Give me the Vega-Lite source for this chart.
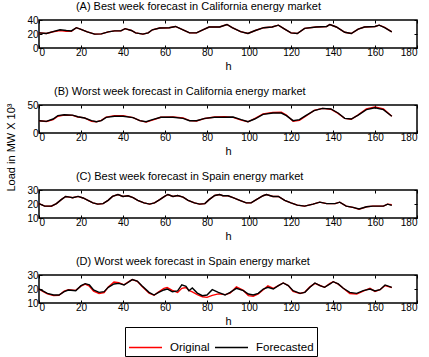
{
  "$schema": "https://vega.github.io/schema/vega-lite/v6.json",
  "padding": {"left": 4, "top": 0, "right": 5, "bottom": 0},
  "background": "white",
  "config": {
    "font": "Liberation Sans",
    "view": {"stroke": "black", "strokeWidth": 1.5},
    "axis": {"domain": false, "grid": false, "tickSize": -3, "tickColor": "black", "tickWidth": 1, "labelFont": "Liberation Sans", "labelFontSize": 10, "labelColor": "black", "labelPadding": 4, "titleFont": "Liberation Sans", "titleFontSize": 11, "titleFontWeight": "normal", "titleColor": "black", "titlePadding": 3},
    "axisX": {"labelPadding": 2},
    "title": {"font": "Liberation Sans", "fontSize": 11, "fontWeight": "normal", "color": "black", "anchor": "start", "dx": 49, "offset": 3},
    "line": {"strokeWidth": 1.4}
  },
  "datasets": {
    "A": [
      {"h":0,"o":21.6,"f":21.6},{"h":3.5,"o":20.7,"f":20.7},{"h":6.7,"o":23.2,"f":23.4},{"h":10,"o":25,"f":26},{"h":13,"o":24,"f":25},{"h":15.4,"o":24,"f":24.4},{"h":17.8,"o":29,"f":29},{"h":20,"o":26.7,"f":26.7},{"h":23,"o":23,"f":23},{"h":26.5,"o":19.8,"f":19.8},{"h":29.7,"o":20.2,"f":20.2},{"h":33,"o":23,"f":23},{"h":36,"o":24.4,"f":24.4},{"h":39,"o":24.4,"f":24.4},{"h":41,"o":27.6,"f":27.6},{"h":44,"o":25,"f":25},{"h":46,"o":21.6,"f":21.6},{"h":49.5,"o":19.8,"f":19.8},{"h":52,"o":21.6,"f":21.6},{"h":54,"o":26,"f":26},{"h":57.5,"o":28.5,"f":28.5},{"h":62,"o":29,"f":29},{"h":65,"o":30.8,"f":30.8},{"h":68.6,"o":26,"f":26},{"h":71.7,"o":21.6,"f":21.6},{"h":75,"o":21.6,"f":21.6},{"h":78,"o":26,"f":26},{"h":81,"o":30,"f":30},{"h":86,"o":30,"f":30},{"h":89.5,"o":33.6,"f":33.6},{"h":92,"o":29,"f":29},{"h":96,"o":23.4,"f":23.4},{"h":99.5,"o":20.7,"f":20.7},{"h":103,"o":25,"f":25},{"h":107,"o":29,"f":29},{"h":111,"o":30,"f":30},{"h":114,"o":32.6,"f":32.6},{"h":117,"o":27,"f":27},{"h":120,"o":21.6,"f":21.6},{"h":123,"o":20.7,"f":20.7},{"h":126.5,"o":28,"f":28},{"h":132,"o":30,"f":30},{"h":137,"o":30.8,"f":30.8},{"h":138.5,"o":33.6,"f":33.6},{"h":141.6,"o":30,"f":30},{"h":145.6,"o":22.5,"f":22.5},{"h":148.7,"o":20.7,"f":20.7},{"h":152,"o":27,"f":27},{"h":155,"o":30,"f":30},{"h":160,"o":30.8,"f":30.8},{"h":162,"o":32.6,"f":32.6},{"h":164.6,"o":29.5,"f":29},{"h":168,"o":23,"f":23}
    ],
    "B": [
      {"h":0,"o":22,"f":22},{"h":3.5,"o":20.5,"f":20.8},{"h":6.7,"o":24,"f":25},{"h":9,"o":30,"f":31},{"h":12,"o":32,"f":32.7},{"h":16,"o":31.5,"f":32},{"h":18.5,"o":28.5,"f":29},{"h":21.7,"o":27,"f":26.8},{"h":25,"o":21,"f":22},{"h":27.3,"o":20,"f":20.2},{"h":29.7,"o":22.5,"f":22},{"h":32,"o":28.5,"f":28},{"h":36,"o":31,"f":29.8},{"h":40,"o":31,"f":29.8},{"h":44.8,"o":27.5,"f":27.4},{"h":48,"o":22,"f":22},{"h":51,"o":19.5,"f":20.2},{"h":54,"o":23,"f":23.8},{"h":58,"o":28,"f":28},{"h":63.8,"o":28.5,"f":28},{"h":68.6,"o":27,"f":26.2},{"h":71.7,"o":22,"f":22},{"h":75,"o":21.5,"f":22},{"h":79,"o":26,"f":26.2},{"h":83.7,"o":28.5,"f":28},{"h":88.5,"o":29,"f":28},{"h":92.4,"o":28,"f":28.6},{"h":96.3,"o":23,"f":23.8},{"h":99.5,"o":20,"f":20.2},{"h":102.7,"o":25.5,"f":25},{"h":106.7,"o":34,"f":33.3},{"h":111.4,"o":36.5,"f":35.7},{"h":115.4,"o":37,"f":35.7},{"h":117.8,"o":32,"f":31},{"h":121,"o":21,"f":22},{"h":124,"o":22.5,"f":23.8},{"h":127,"o":30,"f":31},{"h":131,"o":40.5,"f":40},{"h":135,"o":44,"f":44},{"h":139,"o":42.5,"f":42.9},{"h":142.4,"o":35,"f":35.7},{"h":145.6,"o":26,"f":26.2},{"h":148.7,"o":24.5,"f":25},{"h":152,"o":32.5,"f":32},{"h":155.9,"o":43,"f":41.7},{"h":160,"o":46.5,"f":45},{"h":164,"o":43,"f":41.7},{"h":168,"o":30,"f":29.8}
    ],
    "C": [
      {"h":0,"o":20.3,"f":20.3},{"h":2.7,"o":18.5,"f":18.5},{"h":5.9,"o":18.4,"f":18.5},{"h":8.3,"o":20.3,"f":20.3},{"h":10.6,"o":23.1,"f":23.1},{"h":12.7,"o":25.4,"f":25.4},{"h":14.6,"o":24.9,"f":24.9},{"h":16,"o":24.5,"f":24.5},{"h":18.6,"o":25.4,"f":25.4},{"h":21,"o":24.3,"f":24.3},{"h":23.3,"o":22.6,"f":22.6},{"h":25.7,"o":20.8,"f":20.8},{"h":28,"o":19.9,"f":19.9},{"h":30.5,"o":20.3,"f":20.3},{"h":32.9,"o":22.6,"f":22.6},{"h":35,"o":25.4,"f":25.4},{"h":37.6,"o":26.8,"f":26.8},{"h":40,"o":25.4,"f":25.4},{"h":42.4,"o":25.9,"f":25.9},{"h":44.8,"o":24.5,"f":24.5},{"h":47,"o":22.6,"f":22.6},{"h":50,"o":20.8,"f":20.8},{"h":52.7,"o":19.9,"f":19.9},{"h":55,"o":20.8,"f":20.8},{"h":57.5,"o":23.1,"f":23.1},{"h":59.8,"o":25.4,"f":25.4},{"h":61.4,"o":26.8,"f":26.8},{"h":63.8,"o":25.4,"f":25.4},{"h":66,"o":26.1,"f":26.1},{"h":68.6,"o":24.9,"f":24.9},{"h":71,"o":22.6,"f":22.6},{"h":74,"o":20.8,"f":20.8},{"h":76.5,"o":19.9,"f":19.9},{"h":79,"o":20.3,"f":20.3},{"h":81,"o":23.1,"f":23.1},{"h":83.7,"o":26.1,"f":26.1},{"h":86,"o":26.8,"f":26.8},{"h":87.6,"o":25.9,"f":25.9},{"h":90,"o":25.9,"f":25.9},{"h":92.4,"o":24.5,"f":24.5},{"h":95.6,"o":22.6,"f":22.6},{"h":98.7,"o":20.8,"f":20.8},{"h":101,"o":20.8,"f":20.8},{"h":103.5,"o":23.1,"f":23.1},{"h":106.7,"o":25.9,"f":25.9},{"h":108.3,"o":26.8,"f":26.8},{"h":111.4,"o":25.4,"f":25.4},{"h":114,"o":25.4,"f":25.4},{"h":117,"o":22.6,"f":22.6},{"h":120,"o":20.8,"f":20.8},{"h":123,"o":19.2,"f":19.2},{"h":126.5,"o":18.5,"f":18.5},{"h":130.5,"o":19.9,"f":19.9},{"h":133.7,"o":21.3,"f":21.3},{"h":137,"o":20.3,"f":20.3},{"h":141,"o":20.3,"f":20.3},{"h":143.2,"o":21.3,"f":21.3},{"h":146.3,"o":18.5,"f":18.5},{"h":149.5,"o":17.6,"f":17.6},{"h":152.4,"o":16.2,"f":16.4},{"h":156,"o":18,"f":18},{"h":159,"o":18.5,"f":18.5},{"h":164,"o":18.5,"f":18.5},{"h":166,"o":19.9,"f":19.9},{"h":168,"o":19.5,"f":19}
    ],
    "D": [
      {"h":0,"o":20,"f":20},{"h":1.6,"o":18.5,"f":18.8},{"h":4,"o":16.5,"f":16.9},{"h":7,"o":15.3,"f":15.7},{"h":9.5,"o":15.5,"f":15.7},{"h":12,"o":18.5,"f":18.1},{"h":14,"o":19.5,"f":19.3},{"h":17.5,"o":19,"f":18.8},{"h":20,"o":22,"f":22.4},{"h":22,"o":23.5,"f":23.8},{"h":24,"o":22,"f":22.9},{"h":26,"o":18.5,"f":19.3},{"h":28.6,"o":16.8,"f":17.6},{"h":31,"o":17.5,"f":18.1},{"h":33,"o":21.5,"f":21.2},{"h":35.7,"o":25,"f":23.6},{"h":38,"o":24.5,"f":24},{"h":40.5,"o":23,"f":22.9},{"h":42,"o":24.5,"f":24.3},{"h":44.4,"o":26.7,"f":26.7},{"h":46.8,"o":25.5,"f":25.7},{"h":49,"o":22,"f":22.4},{"h":52.4,"o":17,"f":17.6},{"h":54.8,"o":15.5,"f":15.7},{"h":57,"o":18,"f":17.6},{"h":59.5,"o":20.5,"f":19.3},{"h":61,"o":21,"f":20},{"h":63.5,"o":19,"f":18.1},{"h":66,"o":17.5,"f":18.6},{"h":68,"o":20.5,"f":22.9},{"h":70,"o":21,"f":21.9},{"h":71.4,"o":19,"f":18.8},{"h":73,"o":18,"f":20.7},{"h":75.4,"o":16,"f":17.1},{"h":77.8,"o":14.5,"f":15.2},{"h":80,"o":14,"f":15.7},{"h":82.5,"o":15.5,"f":19.5},{"h":85.4,"o":16.5,"f":17.6},{"h":88.6,"o":16,"f":15.7},{"h":91,"o":17,"f":17.6},{"h":94,"o":21.5,"f":20.5},{"h":97.3,"o":19,"f":18.8},{"h":99.7,"o":15.3,"f":16.4},{"h":102,"o":14.8,"f":15.7},{"h":104.4,"o":16.5,"f":16.9},{"h":106.8,"o":19.5,"f":20},{"h":109,"o":22.2,"f":21.2},{"h":111.6,"o":20.5,"f":20},{"h":114,"o":22.4,"f":22.4},{"h":116.3,"o":24.3,"f":24.3},{"h":118.7,"o":22.5,"f":22.4},{"h":121,"o":18.3,"f":18.8},{"h":124.3,"o":16.8,"f":16.9},{"h":126.6,"o":17.8,"f":17.6},{"h":129,"o":21.5,"f":21.2},{"h":131.4,"o":24,"f":24.3},{"h":133.8,"o":22.5,"f":22.4},{"h":136,"o":21.2,"f":21.2},{"h":138.6,"o":24,"f":23.6},{"h":140.1,"o":25.2,"f":25.2},{"h":142.5,"o":23.5,"f":23.6},{"h":144.9,"o":20.5,"f":20.5},{"h":148,"o":16.8,"f":17.6},{"h":151.3,"o":16.4,"f":16.9},{"h":154.4,"o":18.5,"f":18.8},{"h":157.6,"o":20.5,"f":20},{"h":160,"o":18.3,"f":18.6},{"h":162.4,"o":19.5,"f":19.5},{"h":164.8,"o":22.5,"f":22.9},{"h":168,"o":21,"f":21.2}
    ]
  },
  "bounds": "flush",
  "spacing": 57,
  "vconcat": [
    {
      "width": 378, "height": 28,
      "title": {"text": "(A) Best week forecast in California energy market"},
      "data": {"name": "A"},
      "layer": [
        {"mark": {"type": "line"},
         "encoding": {
           "x": {"field": "h", "type": "quantitative", "scale": {"domain": [0, 180]}, "axis": {"orient": "bottom", "values": [0,20,40,60,80,100,120,140,160,180], "title": "h"}},
           "y": {"field": "o", "type": "quantitative", "scale": {"domain": [0, 40]}, "axis": {"orient": "left", "values": [0,20,40], "title": null}},
           "color": {"datum": "Original", "type": "nominal", "scale": {"domain": ["Original", "Forecasted"], "range": ["#ff0000", "#000000"]}, "legend": {"orient": "none", "legendX": 86, "legendY": 307, "direction": "horizontal", "title": null, "strokeColor": "black", "fillColor": "white", "padding": 3, "symbolType": "stroke", "symbolSize": 1089, "symbolStrokeWidth": 1.3, "labelFontSize": 11.5, "labelFont": "Liberation Sans", "labelColor": "black", "labelOffset": 7, "columnPadding": 2}}
         }},
        {"mark": {"type": "line"},
         "encoding": {
           "x": {"field": "h", "type": "quantitative", "scale": {"domain": [0, 180]}, "axis": {"orient": "top", "values": [0,20,40,60,80,100,120,140,160,180], "labels": false, "title": null}},
           "y": {"field": "f", "type": "quantitative", "scale": {"domain": [0, 40]}, "axis": {"orient": "right", "values": [0,20,40], "labels": false, "title": null}},
           "color": {"datum": "Forecasted", "type": "nominal"}
         }}
      ],
      "resolve": {"axis": {"x": "independent", "y": "independent"}}
    },
    {
      "width": 378, "height": 28,
      "title": {"text": "(B) Worst week forecast in California energy market"},
      "data": {"name": "B"},
      "layer": [
        {"mark": {"type": "line"},
         "encoding": {
           "x": {"field": "h", "type": "quantitative", "scale": {"domain": [0, 180]}, "axis": {"orient": "bottom", "values": [0,20,40,60,80,100,120,140,160,180], "title": "h"}},
           "y": {"field": "o", "type": "quantitative", "scale": {"domain": [0, 50]}, "axis": {"orient": "left", "values": [0,50], "title": "Load in MW X 10³", "titleX": -23, "titleY": 42, "titleAngle": -90, "titleAlign": "center", "titleBaseline": "bottom"}},
           "color": {"datum": "Original", "type": "nominal"}
         }},
        {"mark": {"type": "line"},
         "encoding": {
           "x": {"field": "h", "type": "quantitative", "scale": {"domain": [0, 180]}, "axis": {"orient": "top", "values": [0,20,40,60,80,100,120,140,160,180], "labels": false, "title": null}},
           "y": {"field": "f", "type": "quantitative", "scale": {"domain": [0, 50]}, "axis": {"orient": "right", "values": [0,50], "labels": false, "title": null}},
           "color": {"datum": "Forecasted", "type": "nominal"}
         }}
      ],
      "resolve": {"axis": {"x": "independent", "y": "independent"}}
    },
    {
      "width": 378, "height": 28,
      "title": {"text": "(C) Best week forecast in Spain energy market"},
      "data": {"name": "C"},
      "layer": [
        {"mark": {"type": "line"},
         "encoding": {
           "x": {"field": "h", "type": "quantitative", "scale": {"domain": [0, 180]}, "axis": {"orient": "bottom", "values": [0,20,40,60,80,100,120,140,160,180], "title": "h"}},
           "y": {"field": "o", "type": "quantitative", "scale": {"domain": [10, 30]}, "axis": {"orient": "left", "values": [10,20,30], "title": null}},
           "color": {"datum": "Original", "type": "nominal"}
         }},
        {"mark": {"type": "line"},
         "encoding": {
           "x": {"field": "h", "type": "quantitative", "scale": {"domain": [0, 180]}, "axis": {"orient": "top", "values": [0,20,40,60,80,100,120,140,160,180], "labels": false, "title": null}},
           "y": {"field": "f", "type": "quantitative", "scale": {"domain": [10, 30]}, "axis": {"orient": "right", "values": [10,20,30], "labels": false, "title": null}},
           "color": {"datum": "Forecasted", "type": "nominal"}
         }}
      ],
      "resolve": {"axis": {"x": "independent", "y": "independent"}}
    },
    {
      "width": 378, "height": 28,
      "title": {"text": "(D)  Worst week forecast in Spain energy market"},
      "data": {"name": "D"},
      "layer": [
        {"mark": {"type": "line"},
         "encoding": {
           "x": {"field": "h", "type": "quantitative", "scale": {"domain": [0, 180]}, "axis": {"orient": "bottom", "values": [0,20,40,60,80,100,120,140,160,180], "title": "h"}},
           "y": {"field": "o", "type": "quantitative", "scale": {"domain": [10, 30]}, "axis": {"orient": "left", "values": [10,20,30], "title": null}},
           "color": {"datum": "Original", "type": "nominal"}
         }},
        {"mark": {"type": "line"},
         "encoding": {
           "x": {"field": "h", "type": "quantitative", "scale": {"domain": [0, 180]}, "axis": {"orient": "top", "values": [0,20,40,60,80,100,120,140,160,180], "labels": false, "title": null}},
           "y": {"field": "f", "type": "quantitative", "scale": {"domain": [10, 30]}, "axis": {"orient": "right", "values": [10,20,30], "labels": false, "title": null}},
           "color": {"datum": "Forecasted", "type": "nominal"}
         }}
      ],
      "resolve": {"axis": {"x": "independent", "y": "independent"}}
    }
  ]
}
